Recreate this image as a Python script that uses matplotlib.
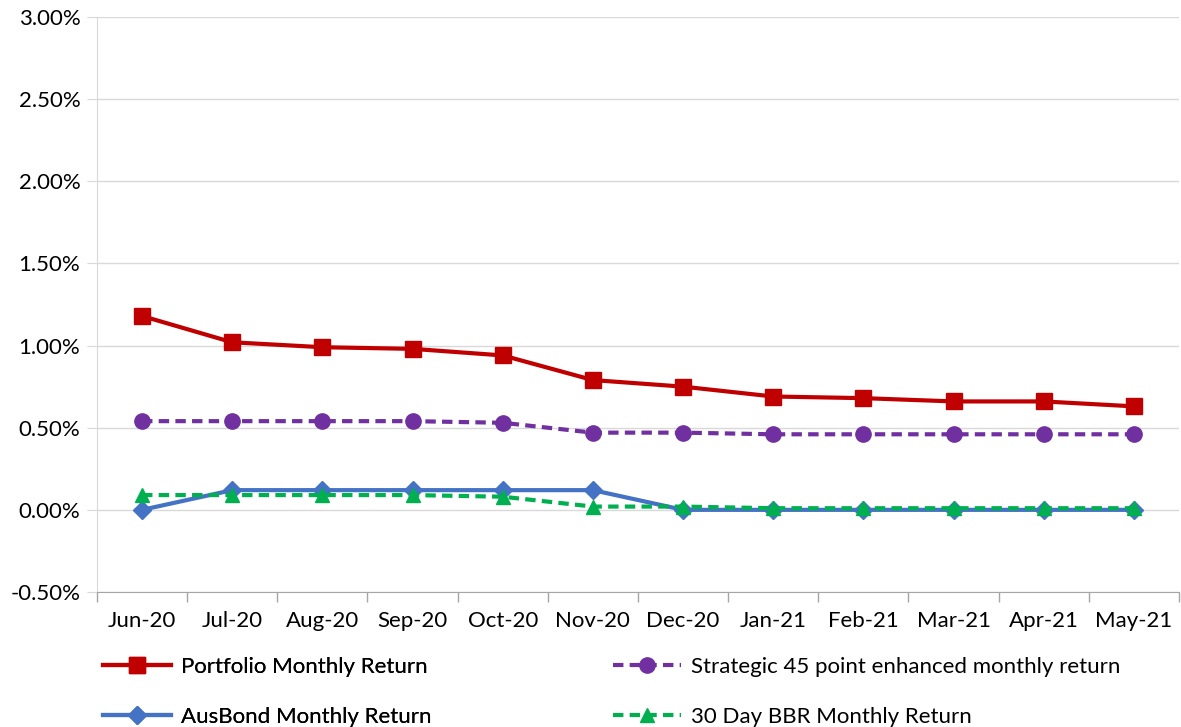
import matplotlib
matplotlib.use("Agg")
from matplotlib import pyplot as plt
from matplotlib.ticker import FuncFormatter, FixedLocator
import numpy as np

months = ["Jun-20", "Jul-20", "Aug-20", "Sep-20", "Oct-20", "Nov-20",
          "Dec-20", "Jan-21", "Feb-21", "Mar-21", "Apr-21", "May-21"]
portfolio = [1.18, 1.02, 0.99, 0.98, 0.94, 0.79, 0.75, 0.69, 0.68, 0.66, 0.66, 0.63]
strategic = [0.54, 0.54, 0.54, 0.54, 0.53, 0.47, 0.47, 0.46, 0.46, 0.46, 0.46, 0.46]
ausbond = [0.00, 0.12, 0.12, 0.12, 0.12, 0.12, 0.00, 0.00, 0.00, 0.00, 0.00, 0.00]
bbr = [0.09, 0.09, 0.09, 0.09, 0.08, 0.02, 0.02, 0.01, 0.01, 0.01, 0.01, 0.01]

plt.rcParams['font.family'] = ['Lato', 'DejaVu Sans']
fig = plt.figure(figsize=(11.81, 7.27), dpi=100)
ax = fig.add_axes([0.0821, 0.1857, 0.9162, 0.7909])

x = np.arange(len(months))
l1, = ax.plot(x, portfolio, color="#c00000", lw=3, marker="s", ms=11, label="Portfolio Monthly Return")
l3, = ax.plot(x, ausbond, color="#4472c4", lw=3, marker="D", ms=9, label="AusBond Monthly Return")
l2, = ax.plot(x, strategic, color="#7030a0", lw=3, ls=(0, (2.5, 1.5)), marker="o", ms=11,
              label="Strategic 45 point enhanced monthly return")
l4, = ax.plot(x, bbr, color="#00b050", lw=3, ls=(0, (2.5, 1.5)), marker="^", ms=10,
              label="30 Day BBR Monthly Return")

ax.set_xlim(-0.5, len(months) - 0.5)
ax.set_ylim(-0.5, 3.0)
ax.set_yticks(np.arange(-0.5, 3.01, 0.5))
ax.yaxis.set_major_formatter(FuncFormatter(lambda v, p: f"{v:.2f}%"))
ax.grid(axis="y", color="#d9d9d9", lw=1)
ax.set_axisbelow(True)
ax.set_xticks(x)
ax.set_xticklabels(months)
ax.xaxis.set_minor_locator(FixedLocator(np.arange(-0.5, len(months), 1)))
ax.tick_params(axis="x", which="major", length=0, pad=14, labelsize=16)
ax.tick_params(axis="x", which="minor", length=7, color="#a6a6a6", width=1)
ax.tick_params(axis="y", length=7, color="#d9d9d9", labelsize=16, pad=5)
for s in ["top", "right"]:
    ax.spines[s].set_visible(False)
ax.spines["left"].set_color("#d9d9d9")
ax.spines["bottom"].set_color("#a6a6a6")

opts = dict(loc="upper left", frameon=False, fontsize=16, handlelength=3.05,
            handletextpad=0.45, labelspacing=1.35, borderaxespad=0, borderpad=0.4)
leg1 = fig.legend(handles=[l1, l3], bbox_to_anchor=(0.0796, 0.109), **opts)
fig.legend(handles=[l2, l4], bbox_to_anchor=(0.5115, 0.109), **opts)
fig.add_artist(leg1)
fig.savefig("out.png", dpi=100)
